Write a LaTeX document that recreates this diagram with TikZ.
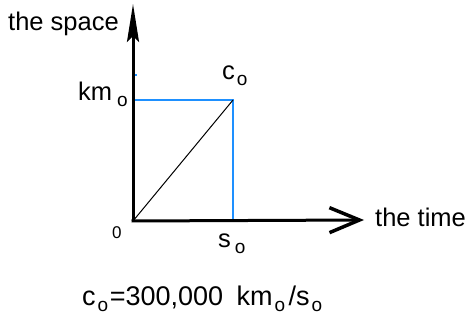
\documentclass[tikz,border=0pt]{standalone}
\usepackage{fontspec}
\setmainfont{Liberation Sans}
\usetikzlibrary{arrows.meta}
\newcommand\lowo{\hspace{2pt}\raisebox{-6pt}{\fontsize{19}{19}\selectfont o}\hspace{1.5pt}}
\begin{document}
\begin{tikzpicture}[x=1pt,y=-1pt,
  lbl/.style={inner sep=0pt,font=\fontsize{25.5}{25.5}\selectfont},
  blueline/.style={draw={rgb,255:red,30;green,144;blue,255},line width=1.5pt},
  axis/.style={draw=black,line width=3pt}]
\useasboundingbox (0,0) rectangle (465,320);
\coordinate (O) at (133,221);
\coordinate (Y) at (133,4);
\coordinate (X) at (364,220);
\coordinate (K) at (133,100);
\coordinate (C) at (233,100);
\coordinate (S) at (233,221);
\coordinate (T1) at (133,75);
\coordinate (T2) at (137,75);
% blue guides
\draw[blueline] (K) -- (C) -- (S);
\draw[blueline] (T1) -- (T2);
% diagonal
\draw[line width=1pt] (O) -- (C);
% axes
\draw[axis,-{Stealth[length=38pt,width=12pt,inset=6pt]}] (O) -- (Y);
\draw[axis,-{Straight Barb[length=30pt,width=25pt,line width=3.5pt]}] ([xshift=-1.5pt]O) -- (X);
% labels
\node[lbl,anchor=base west] (space) at (8,31) {the space};
\node[lbl,anchor=base west] (time) at (375,226) {the time};
\node[lbl,anchor=base west] (km) at (78,101) {km\hspace{3pt}\lowo};
\node[lbl,anchor=base west] (c) at (222,80) {c\lowo};
\node[lbl,anchor=base west,font=\fontsize{17}{17}\selectfont] (zero) at (112,238) {0};
\node[lbl,anchor=base west] (s) at (218,247) {s\hspace{2pt}\lowo};
\node[lbl,anchor=base west,font=\fontsize{27}{27}\selectfont] (eq) at (82,305) {c\lowo=300,000\hspace{6pt} km\lowo\hspace{2pt}/s\lowo};
\end{tikzpicture}
\end{document}
